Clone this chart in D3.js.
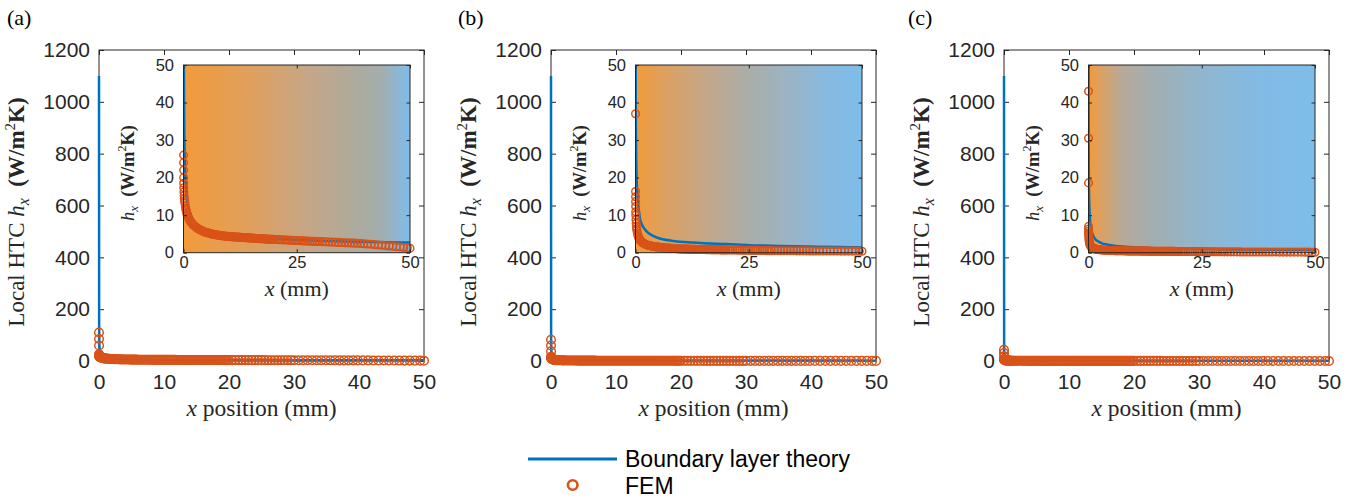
<!DOCTYPE html>
<html><head><meta charset="utf-8">
<script src="https://cdn.jsdelivr.net/npm/d3@7"></script>
<style>body{margin:0;background:#fff} svg{display:block}</style>
</head><body><svg id="chart" width="1360" height="500"></svg>
<script>
// ---------- data ----------
const panelLabels = ["(a)", "(b)", "(c)"];
const mainXTicks = [0, 10, 20, 30, 40, 50];
const mainYTicks = [0, 200, 400, 600, 800, 1000, 1200];
const insetXTicks = [0, 25, 50];
const insetYTicks = [0, 10, 20, 30, 40, 50];
const legendLabels = ["Boundary layer theory", "FEM"];

// FEM node positions along the plate (mm)
const femX = [0,0.004,0.008,0.012,0.016,0.02,0.03,0.04,
0.06,0.1,0.15,0.2,0.25,0.3,0.4,0.5,0.6,0.7,0.8,0.9,1.0,1.15,1.3,1.45,1.6,1.8,2.0,
2.25,2.5,2.75,3.0,3.25,3.5,3.75,4.0,4.25,4.5,4.75,5.0,5.25,5.5,5.75,6.0,6.25,6.5,6.75,7.0,7.25,7.5,7.75,8.0,8.25,8.5,8.75,9.0,9.25,9.5,9.75,10.0,
10.25,10.5,10.75,11.0,11.25,11.5,11.75,12.0,12.25,12.5,12.75,13.0,13.25,13.5,13.75,14.0,14.25,14.5,14.75,15.0,15.25,15.5,15.75,16.0,16.25,16.5,16.75,17.0,17.25,17.5,17.75,18.0,18.25,18.5,18.75,19.0,19.25,19.5,19.75,20.0,
20.5,21.0,21.5,22.0,22.5,23.0,23.5,24.0,24.5,25.0,25.5,26.0,26.5,27.0,27.5,28.0,28.5,29.0,29.5,30.0,
30.7,31.4,32.1,32.8,33.5,34.2,34.9,35.6,36.3,37.0,37.7,38.4,39.1,39.8,
40.6,41.4,42.2,43.0,43.8,44.6,45.4,46.2,47.0,47.8,48.6,49.4,50.0];

// FEM local HTC (W/m2K)
const femA = [110,85,60,26,24,22,20,18.5,
17.3,16.2,15.2,14.4,13.8,13.3,12.4,11.7,11.2,10.7,10.2,9.9,9.6,9.15,8.8,8.5,8.2,7.9,7.6,
7.3,7.05,6.8,6.6,6.4,6.2,6.05,5.9,5.75,5.6,5.5,5.4,5.32,5.24,5.16,5.08,5.0,4.93,4.87,4.81,4.75,4.7,4.65,4.6,4.56,4.52,4.48,4.44,4.4,4.37,4.34,4.31,
4.28,4.26,4.24,4.22,4.2,4.18,4.16,4.14,4.12,4.1,4.08,4.06,4.04,4.02,4.0,3.98,3.96,3.94,3.92,3.9,3.88,3.86,3.84,3.82,3.8,3.78,3.76,3.74,3.72,3.7,3.68,3.66,3.64,3.62,3.6,3.59,3.58,3.56,3.55,3.53,
3.5,3.47,3.44,3.41,3.38,3.35,3.32,3.29,3.26,3.23,3.2,3.17,3.14,3.11,3.08,3.05,3.03,3.01,2.99,2.97,
2.94,2.9,2.86,2.82,2.78,2.74,2.7,2.66,2.62,2.58,2.54,2.5,2.45,2.4,
2.33,2.25,2.16,2.07,1.98,1.89,1.8,1.7,1.6,1.5,1.4,1.3,1.2];
const femB = [82,60,37,16.3,14.9,13.6,12.3,10.9,
10,8.8,7.8,7.0,6.4,6.0,5.3,4.8,4.4,4.1,3.8,3.6,3.4,3.15,2.95,2.8,2.65,2.5,2.35,
2.2,2.1,2.0,1.92,1.85,1.78,1.72,1.66,1.61,1.56,1.52,1.48,1.44,1.41,1.38,1.35,1.32,1.3,1.27,1.25,1.23,1.21,1.19,1.17,1.15,1.13,1.11,1.09,1.07,1.05,1.03,1.01,
1.0,0.99,0.98,0.97,0.96,0.95,0.94,0.93,0.92,0.91,0.9,0.89,0.88,0.87,0.865,0.86,0.855,0.85,0.845,0.84,0.835,0.83,0.825,0.82,0.815,0.81,0.805,0.8,0.795,0.79,0.785,0.78,0.775,0.77,0.765,0.76,0.755,0.75,0.745,0.74,
0.73,0.72,0.71,0.7,0.69,0.68,0.67,0.66,0.65,0.64,0.63,0.62,0.61,0.6,0.59,0.58,0.57,0.56,0.55,0.54,
0.53,0.525,0.52,0.515,0.51,0.505,0.5,0.495,0.49,0.485,0.48,0.475,0.47,0.465,
0.46,0.455,0.45,0.445,0.44,0.435,0.43,0.425,0.42,0.415,0.41,0.405,0.4];
const femC = [43,30.5,18.6,7.0,6.3,5.7,5.2,4.7,
4.2,3.6,3.1,2.7,2.45,2.2,1.9,1.7,1.55,1.45,1.35,1.27,1.2,1.12,1.06,1.0,0.96,0.91,0.86,
0.82,0.79,0.76,0.73,0.71,0.69,0.67,0.65,0.63,0.62,0.6,0.59,0.58,0.57,0.56,0.55,0.54,0.53,0.525,0.52,0.51,0.505,0.5,0.49,0.485,0.48,0.475,0.47,0.465,0.46,0.455,0.45,
0.445,0.442,0.439,0.436,0.433,0.43,0.427,0.424,0.421,0.418,0.415,0.412,0.409,0.406,0.403,0.4,0.397,0.394,0.391,0.388,0.385,0.382,0.379,0.376,0.373,0.37,0.367,0.364,0.361,0.358,0.355,0.352,0.349,0.346,0.343,0.34,0.337,0.334,0.331,0.328,
0.325,0.32,0.315,0.31,0.305,0.3,0.295,0.29,0.285,0.28,0.275,0.27,0.265,0.26,0.255,0.25,0.245,0.24,0.235,0.23,
0.226,0.222,0.218,0.214,0.21,0.206,0.202,0.198,0.194,0.19,0.186,0.182,0.178,0.174,
0.17,0.167,0.164,0.161,0.158,0.155,0.152,0.149,0.146,0.143,0.14,0.137,0.134];

// Boundary layer theory curve
const blX = [0,0.02,0.05,0.1,0.2,0.35,0.5,0.75,1,1.5,2,3,4,5,6,8,10,12.5,15,20,25,30,35,40,45,50];
const blA = [1100,150,70,45,30,22,18,14.5,12.5,10.5,9.0,7.6,6.8,6.2,5.8,5.2,4.8,4.4,4.1,3.7,3.4,3.2,3.0,2.9,2.8,2.7];
const blB = [1100,70,45,31,22,16.5,14,11.2,9.0,7.3,6.3,5.1,4.4,3.9,3.6,3.2,2.9,2.7,2.5,2.3,2.0,1.85,1.7,1.6,1.5,1.4];
const blC = [1100,40,25,17,12,8.5,7,5.5,4.6,3.6,3.1,2.5,2.2,2.0,1.8,1.6,1.45,1.3,1.2,1.1,1.0,0.9,0.85,0.8,0.75,0.7];

// inset background gradient stops (offset, colour)
const gradA = [[0,"#F39A3A"],[0.3,"#DFA05E"],[0.55,"#C5A687"],[0.75,"#AEAA9C"],[0.88,"#A2AEAF"],[0.95,"#8DB7D6"],[1,"#7EBDEA"]];
const gradB = [[0,"#F39A3A"],[0.15,"#D9A166"],[0.35,"#BFA890"],[0.5,"#AAADA8"],[0.7,"#98B5C8"],[0.85,"#86BAE0"],[1,"#7EBDEA"]];
const gradC = [[0,"#F39A3A"],[0.06,"#D9A166"],[0.15,"#B7A99A"],[0.28,"#A2AEB0"],[0.5,"#90B6CF"],[0.75,"#82BBE4"],[1,"#7EBDEA"]];

// ---------- drawing ----------
const svg = d3.select("#chart");
const BLUE = "#0072BD", RED = "#D95319", AX = "#262626";
const SANS = "'Liberation Sans', Arial, sans-serif";
const SERIF = "'Liberation Serif', 'Times New Roman', serif";

const panels = [
  {label: panelLabels[0], fem: femA, bl: blA, grad: gradA, left: 99, lx: 7},
  {label: panelLabels[1], fem: femB, bl: blB, grad: gradB, left: 551, lx: 458},
  {label: panelLabels[2], fem: femC, bl: blC, grad: gradC, left: 1004, lx: 908}
];
const W = 325, TOP = 50, BOT = 361;
const defs = svg.append("defs");

function styleAxis(g, size) {
  g.select(".domain").remove();
  g.selectAll(".tick line").attr("stroke", AX).attr("stroke-width", 1);
  g.selectAll(".tick text").attr("fill", AX).attr("font-family", SANS).attr("font-size", size);
}

function ylabel(g, x, y, size, withPrefix) {
  const t = g.append("text").attr("transform", `translate(${x},${y}) rotate(-90)`)
    .attr("text-anchor", "middle").attr("font-family", SERIF).attr("font-size", size).attr("fill", AX);
  if (withPrefix) t.append("tspan").text("Local HTC ");
  t.append("tspan").attr("font-style", "italic").text("h");
  t.append("tspan").attr("font-style", "italic").attr("font-size", size * 0.7).attr("dy", size * 0.22).text("x");
  t.append("tspan").attr("dy", -size * 0.22).text("\u2002");
  t.append("tspan").attr("font-weight", "bold").text("(W/m");
  t.append("tspan").attr("font-size", size * 0.65).attr("dy", -size * 0.4).text("2");
  t.append("tspan").attr("font-weight", "bold").attr("dy", size * 0.4).text("K)");
}

panels.forEach((p, i) => {
  const g = svg.append("g");
  const x = d3.scaleLinear().domain([0, 50]).range([p.left, p.left + W]);
  const y = d3.scaleLinear().domain([0, 1200]).range([BOT, TOP]);

  g.append("text").attr("x", p.lx).attr("y", 25).attr("font-family", SERIF).attr("font-size", 22)
    .attr("fill", "#000").text(p.label);

  g.append("rect").attr("x", p.left).attr("y", TOP).attr("width", W).attr("height", BOT - TOP)
    .attr("fill", "#fff").attr("stroke", AX).attr("stroke-width", 1);

  g.append("g").attr("transform", `translate(0,${BOT})`)
    .call(d3.axisBottom(x).tickValues(mainXTicks).tickSize(-5).tickPadding(13).tickFormat(d3.format("d")))
    .call(a => styleAxis(a, 21));
  g.append("g").attr("transform", `translate(0,${TOP})`)
    .call(d3.axisTop(x).tickValues(mainXTicks).tickSize(-5).tickFormat(""))
    .call(a => styleAxis(a, 21));
  g.append("g").attr("transform", `translate(${p.left},0)`)
    .call(d3.axisLeft(y).tickValues(mainYTicks).tickSize(-5).tickPadding(9).tickFormat(d3.format("d")))
    .call(a => styleAxis(a, 21));
  g.append("g").attr("transform", `translate(${p.left + W},0)`)
    .call(d3.axisRight(y).tickValues(mainYTicks).tickSize(-5).tickFormat(""))
    .call(a => styleAxis(a, 21));

  const line = d3.line().x(d => x(d[0])).y(d => y(d[1])).curve(d3.curveMonotoneX);
  const blPts = blX.map((v, k) => [v, p.bl[k]]);
  const femPts = femX.map((v, k) => [v, p.fem[k]]);
  g.append("path").datum(blPts).attr("d", line).attr("fill", "none").attr("stroke", BLUE).attr("stroke-width", 2.5);
  g.append("g").selectAll("circle").data(femPts).join("circle")
    .attr("cx", d => x(d[0])).attr("cy", d => y(d[1])).attr("r", 4.3)
    .attr("fill", "none").attr("stroke", RED).attr("stroke-width", 1.5);

  const xl = g.append("text").attr("x", p.left + W / 2).attr("y", 416).attr("text-anchor", "middle")
    .attr("font-family", SERIF).attr("font-size", 23.5).attr("fill", AX);
  xl.append("tspan").attr("font-style", "italic").text("x");
  xl.append("tspan").text(" position (mm)");
  ylabel(g, p.left - 75, 212, 23, true);

  // ---------- inset ----------
  const iL = p.left + 84.5, iW = 226.5, iT = 65, iB = 252.7;
  const ix = d3.scaleLinear().domain([0, 50]).range([iL, iL + iW]);
  const iy = d3.scaleLinear().domain([0, 50]).range([iB, iT]);
  const gid = "grad" + i, cid = "clip" + i;
  const lg = defs.append("linearGradient").attr("id", gid).attr("x1", 0).attr("x2", 1).attr("y1", 0).attr("y2", 0);
  p.grad.forEach(s => lg.append("stop").attr("offset", s[0]).attr("stop-color", s[1]));
  defs.append("clipPath").attr("id", cid).append("rect").attr("x", iL).attr("y", iT).attr("width", iW).attr("height", iB - iT);

  g.append("rect").attr("x", iL).attr("y", iT).attr("width", iW).attr("height", iB - iT).attr("fill", `url(#${gid})`);
  const iline = d3.line().x(d => ix(d[0])).y(d => iy(d[1])).curve(d3.curveMonotoneX);
  g.append("path").datum(blPts).attr("d", iline).attr("clip-path", `url(#${cid})`)
    .attr("fill", "none").attr("stroke", BLUE).attr("stroke-width", 2.5);
  g.append("g").selectAll("circle").data(femPts.filter(d => d[1] <= 50)).join("circle")
    .attr("cx", d => ix(d[0])).attr("cy", d => iy(d[1])).attr("r", 3.8)
    .attr("fill", "none").attr("stroke", RED).attr("stroke-width", 1.5);
  g.append("rect").attr("x", iL).attr("y", iT).attr("width", iW).attr("height", iB - iT)
    .attr("fill", "none").attr("stroke", AX).attr("stroke-width", 1);

  g.append("g").attr("transform", `translate(0,${iB})`)
    .call(d3.axisBottom(ix).tickValues(insetXTicks).tickSize(-3.5).tickPadding(4).tickFormat(d3.format("d")))
    .call(a => styleAxis(a, 16.5));
  g.append("g").attr("transform", `translate(0,${iT})`)
    .call(d3.axisTop(ix).tickValues(insetXTicks).tickSize(-3.5).tickFormat(""))
    .call(a => styleAxis(a, 16.5));
  g.append("g").attr("transform", `translate(${iL},0)`)
    .call(d3.axisLeft(iy).tickValues(insetYTicks).tickSize(-3.5).tickPadding(9.5).tickFormat(d3.format("d")))
    .call(a => styleAxis(a, 16.5));
  g.append("g").attr("transform", `translate(${iL + iW},0)`)
    .call(d3.axisRight(iy).tickValues(insetYTicks).tickSize(-3.5).tickFormat(""))
    .call(a => styleAxis(a, 16.5));

  const ixl = g.append("text").attr("x", iL + iW / 2).attr("y", 296).attr("text-anchor", "middle")
    .attr("font-family", SERIF).attr("font-size", 22).attr("fill", AX);
  ixl.append("tspan").attr("font-style", "italic").text("x");
  ixl.append("tspan").text(" (mm)");
  ylabel(g, iL - 50, 173, 18.5, false);
});

// ---------- legend ----------
const lgd = svg.append("g");
lgd.append("line").attr("x1", 528).attr("x2", 617).attr("y1", 459).attr("y2", 459)
  .attr("stroke", BLUE).attr("stroke-width", 3);
lgd.append("circle").attr("cx", 572.7).attr("cy", 485).attr("r", 4.8)
  .attr("fill", "none").attr("stroke", RED).attr("stroke-width", 2.6);
lgd.selectAll("text").data(legendLabels).join("text")
  .attr("x", 625).attr("y", (d, k) => 467 + k * 27)
  .attr("font-family", SANS).attr("font-size", 23).attr("fill", "#000").text(d => d);
</script>
</body></html>
